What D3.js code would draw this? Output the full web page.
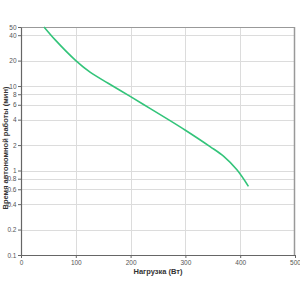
<!DOCTYPE html>
<html>
<head>
<meta charset="utf-8">
<script src="https://cdn.jsdelivr.net/npm/d3@7"></script>
<style>
  body { margin: 0; background: #fff; }
  svg { display: block; font-family: "Liberation Sans", Arial, sans-serif; }
</style>
</head>
<body>
<script>
// load (W) vs runtime (min)
var loads = [42, 62, 100, 126, 159, 200, 236, 272, 300, 345, 370, 394, 415];
var times = [50, 35.4, 20, 14.6, 10.8, 7.5, 5.4, 3.9, 3.0, 1.92, 1.47, 1.02, 0.65];
var xTicks = [0, 100, 200, 300, 400, 500];
var yTicks = [0.1, 0.2, 0.4, 0.6, 0.8, 1, 2, 4, 6, 8, 10, 20, 40, 50];
var xTitle = 'Нагрузка (Вт)';
var yTitle = 'Время автономной работы (мин)';

var pLeft = 21, pRight = 295, pTop = 27, pBottom = 255;

var svg = d3.select('body').append('svg')
  .attr('width', 300)
  .attr('height', 300);

var x = d3.scaleLinear().domain([0, 500]).range([pLeft, pRight]);
var y = d3.scaleLog().domain([0.1, 50]).range([pBottom, pTop]);

// grid
svg.append('g').selectAll('line')
  .data(xTicks.slice(1, -1))
  .enter().append('line')
  .attr('x1', function(d) { return Math.round(x(d)) + 0.5; })
  .attr('x2', function(d) { return Math.round(x(d)) + 0.5; })
  .attr('y1', pTop).attr('y2', pBottom)
  .attr('stroke', '#dcdcdc').attr('stroke-width', 1);

svg.append('g').selectAll('line')
  .data(yTicks.slice(1, -1))
  .enter().append('line')
  .attr('x1', pLeft).attr('x2', pRight)
  .attr('y1', function(d) { return Math.round(y(d)) + 0.5; })
  .attr('y2', function(d) { return Math.round(y(d)) + 0.5; })
  .attr('stroke', '#dcdcdc').attr('stroke-width', 1);

// frame top/right
svg.append('line').attr('x1', pLeft).attr('x2', pRight).attr('y1', pTop + 0.5).attr('y2', pTop + 0.5)
  .attr('stroke', '#999');
svg.append('line').attr('x1', pRight - 0.5).attr('x2', pRight - 0.5).attr('y1', pTop).attr('y2', pBottom)
  .attr('stroke', '#999').attr('stroke-width', 1.5);

// axes
var xAxis = svg.append('g')
  .attr('transform', 'translate(0,' + pBottom + ')')
  .call(d3.axisBottom(x).tickValues(xTicks).tickSize(3).tickPadding(2).tickSizeOuter(0));
var yAxis = svg.append('g')
  .attr('transform', 'translate(' + pLeft + ',0)')
  .call(d3.axisLeft(y).tickValues(yTicks).tickFormat(function(d) { return d; }).tickSize(3).tickPadding(1.5).tickSizeOuter(0));

[xAxis, yAxis].forEach(function(a) {
  a.select('.domain').attr('stroke', '#666').attr('stroke-width', 1.2);
  a.selectAll('.tick line').attr('stroke', '#666');
  a.selectAll('text').attr('fill', '#555').attr('font-size', 6.5).attr('font-family', 'Liberation Sans, Arial, sans-serif');
});

// curve
var line = d3.line()
  .x(function(d, i) { return x(loads[i]); })
  .y(function(d) { return y(d); })
  .curve(d3.curveCatmullRom);

svg.append('path')
  .datum(times)
  .attr('d', line)
  .attr('fill', 'none')
  .attr('stroke', '#33c47a')
  .attr('stroke-width', 1.6);

// titles
svg.append('text')
  .attr('x', 158).attr('y', 274)
  .attr('text-anchor', 'middle')
  .attr('font-size', 7.5).attr('font-weight', 'bold').attr('fill', '#333')
  .text(xTitle);

svg.append('text')
  .attr('transform', 'translate(8,' + ((pTop + pBottom) / 2 + 7) + ') rotate(-90)')
  .attr('text-anchor', 'middle')
  .attr('font-size', 7.5).attr('font-weight', 'bold').attr('fill', '#333')
  .text(yTitle);
</script>
</body>
</html>
